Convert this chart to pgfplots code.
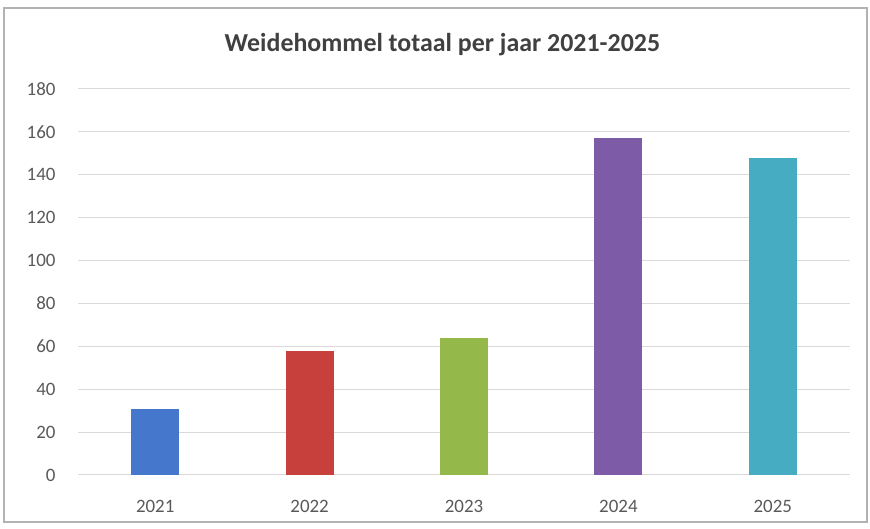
\documentclass[border=0pt]{standalone}
\usepackage{pgfplots}
\pgfplotsset{compat=1.18}
\usepackage{fontspec}
\setmainfont{Carlito}
\definecolor{c1}{HTML}{4577CC}
\definecolor{c2}{HTML}{C8403C}
\definecolor{c3}{HTML}{94B94A}
\definecolor{c4}{HTML}{7D5BA6}
\definecolor{c5}{HTML}{45ACC2}
\definecolor{gridc}{HTML}{D9D9D9}
\definecolor{txt}{HTML}{595959}
\begin{document}
\begin{tikzpicture}[x=1bp,y=1bp]
\draw[color=gray!60, line width=1.2bp] (4,7) rectangle (867,521);
\path (0,0) rectangle (870,529);
\begin{axis}[
  at={(78bp,54bp)}, anchor=south west,
  scale only axis, width=772bp, height=386bp,
  xmin=-0.5, xmax=4.5, ymin=0, ymax=180,
  ytick={0,20,...,180},
  xtick={0,1,2,3,4},
  xticklabels={2021,2022,2023,2024,2025},
  axis line style={draw=none},
  axis x line*=bottom,
  x axis line style={draw=gridc, line width=1bp},
  ymajorgrids, grid style={gridc, line width=1bp},
  major tick length=0pt,
  tick label style={font=\fontsize{19}{21}\selectfont, text=txt},
  /pgf/number format/assume math mode=true,
  yticklabel style={xshift=-19bp},
  xticklabel style={yshift=-22bp},
  ybar, bar width=48bp, bar shift=0pt,
  title={\bfseries Weidehommel totaal per jaar 2021-2025},
  title style={font=\fontsize{26}{30}\selectfont, text=black!75, at={(0.472,1)}, yshift=24bp, anchor=south},
]
\addplot[fill=c1, draw=none] coordinates {(0,31)};
\addplot[fill=c2, draw=none] coordinates {(1,58)};
\addplot[fill=c3, draw=none] coordinates {(2,64)};
\addplot[fill=c4, draw=none] coordinates {(3,157)};
\addplot[fill=c5, draw=none] coordinates {(4,148)};
\end{axis}
\end{tikzpicture}
\end{document}
